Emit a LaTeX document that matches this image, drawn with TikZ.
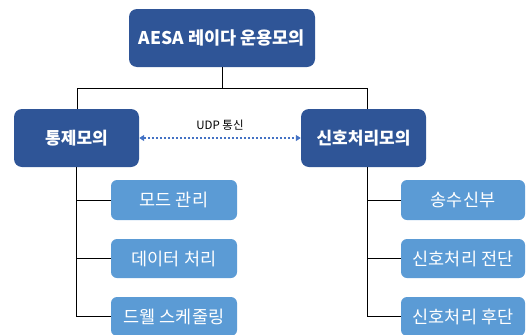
\documentclass[tikz,border=0pt]{standalone}
\usepackage{fontspec}
\setmainfont{Noto Sans CJK KR}
\usetikzlibrary{arrows.meta}
\definecolor{darkbox}{HTML}{2F5597}
\definecolor{lightbox}{HTML}{5B9BD5}
\definecolor{linkblue}{HTML}{4472C4}
\begin{document}
\begin{tikzpicture}[x=1pt,y=-1pt,
  mainbox/.style={fill=darkbox,draw=none,rounded corners=8pt,text=white,
    font=\fontsize{17}{19}\selectfont\bfseries,inner sep=0pt,
    minimum height=58pt},
  subbox/.style={fill=lightbox,draw=none,rounded corners=6pt,text=white,
    font=\fontsize{17.5}{19}\selectfont,inner sep=0pt,minimum height=39pt},
  tree/.style={draw=black,line width=1pt},
  udp/.style={draw=linkblue,line width=1.6pt,dash pattern=on 2pt off 2pt,
    {Triangle[length=5pt,width=6pt]}-{Triangle[length=5pt,width=6pt]}}]
\useasboundingbox (0,0) rectangle (528,335);

% top level
\node[mainbox,minimum width=186pt,font=\fontsize{17.5}{20}\selectfont\bfseries] (top) at (222,38) {AESA 레이다 운용모의};

% second level
\node[mainbox,minimum width=125pt] (ctrl) at (76.5,138) {통제모의};
\node[mainbox,minimum width=125pt] (sig) at (363.5,138) {신호처리모의};

% control sub-models
\node[subbox,minimum width=126pt,minimum height=40pt] (c1) at (174,200) {모드 관리};
\node[subbox,minimum width=126pt] (c2) at (174,258.5) {데이터 처리};
\node[subbox,minimum width=126pt] (c3) at (174,316.5) {드웰 스케줄링};

% signal processing sub-models
\node[subbox,minimum width=124pt,minimum height=40pt] (s1) at (463,200) {송수신부};
\node[subbox,minimum width=124pt] (s2) at (463,258.5) {신호처리 전단};
\node[subbox,minimum width=124pt] (s3) at (463,316.5) {신호처리 후단};

% hierarchy connectors
\coordinate (busL) at (77,88);
\coordinate (busR) at (367,88);
\coordinate (sigdrop) at (367,167);
\draw[tree] (top.south) -- (top.south |- busL);
\draw[tree] (busL |- ctrl.north) -- (busL) -- (busR) -- (busR |- sig.north);

\draw[tree] (ctrl.south) -- (ctrl.south |- c3.west) -- (c3.west);
\draw[tree] (ctrl.south |- c1.west) -- (c1.west);
\draw[tree] (ctrl.south |- c2.west) -- (c2.west);

\draw[tree] (sigdrop) -- (sigdrop |- s3.west) -- (s3.west);
\draw[tree] (sigdrop |- s1.west) -- (s1.west);
\draw[tree] (sigdrop |- s2.west) -- (s2.west);

% communication link
\draw[udp] (ctrl.east) -- node[above=3pt,font=\fontsize{11.5}{13}\selectfont,text=black] (udplabel) {UDP 통신} (sig.west);
\end{tikzpicture}
\end{document}
